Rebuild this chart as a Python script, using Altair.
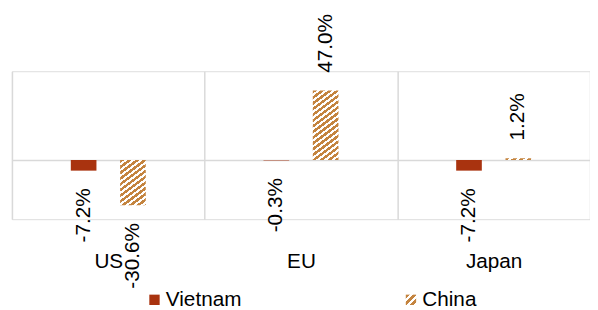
import math
import altair as alt
import pandas as pd

# ---- data ----
countries = ["US", "EU", "Japan"]
series = ["Vietnam", "China"]
vietnam = [-7.2, -0.3, -7.2]
china = [-30.6, 47.0, 1.2]

# ---- style ----
VIET = "#A9330F"
TAN = "#C4843F"
WHITE = "#FFFFFF"
GRID = "#D9D9D9"
FONT = "Liberation Sans"
FS = 21
PLOT_W, PLOT_H = 586, 150
Y_MIN, Y_MAX = -40, 60
BAR_W = 26
OFF = 25
GAP = 18
PX = PLOT_H / (Y_MAX - Y_MIN)
SLOPE = 0.75      # stripe slope (rise per px)
V_PERIOD = 5.8    # vertical stripe period in px
TAN_FRAC = 0.55

rows = []
for c, v, ch in zip(countries, vietnam, china):
    rows.append({"country": c, "series": "Vietnam", "value": v, "label": f"{v:.1f}%"})
    rows.append({"country": c, "series": "China", "value": ch, "label": f"{ch:.1f}%"})
df = pd.DataFrame(rows)


def stripe_stops(extent, period):
    stops = []
    n = int(math.ceil(extent / period))
    for i in range(n):
        a = min(i * period / extent, 1)
        b = min((i + TAN_FRAC) * period / extent, 1)
        c = min((i + 1) * period / extent, 1)
        stops += [(a, TAN), (b, TAN), (b, WHITE), (c, WHITE)]
    return stops


def bar_gradient(w, h, s, period):
    h = max(h, 0.5)
    lam = (s * w + h) / (s * s * w * w + h * h)
    return {
        "gradient": "linear", "x1": 0, "y1": 0,
        "x2": round(lam * s * w, 6), "y2": round(lam * h, 6),
        "stops": [{"offset": round(o, 5), "color": col}
                  for o, col in stripe_stops(s * w + h, period)],
    }


def legend_gradient_expr(side, period):
    stops = ", ".join(
        "{offset: %s, color: '%s'}" % (round(o, 5), col) for o, col in stripe_stops(2 * side, period)
    )
    return "{gradient: 'linear', x1: 0, y1: 0, x2: 1, y2: 1, stops: [%s]}" % stops


x_enc = alt.X(
    "country:N", sort=countries,
    scale=alt.Scale(paddingInner=0, paddingOuter=0),
    axis=alt.Axis(
        title=None, orient="bottom", domain=False, ticks=False, tickSize=0,
        labelPadding=32, labelFont=FONT, labelFontSize=FS, labelColor="#000000",
        labelAngle=0, grid=True, gridColor=GRID, gridWidth=1.5, tickBand="extent",
    ),
)
y_enc = alt.Y(
    "value:Q", stack=None,
    scale=alt.Scale(domain=[Y_MIN, Y_MAX], nice=False, zero=False),
    axis=alt.Axis(
        title=None, domain=False, ticks=False, labels=False, grid=True,
        values=[0], gridColor=GRID, gridWidth=1.5,
    ),
)

base = alt.Chart(df)

viet_bars = base.transform_filter(alt.datum.series == "Vietnam").mark_bar(
    width=BAR_W, xOffset=-OFF
).encode(
    x=x_enc, y=y_enc, y2=alt.datum(0),
    color=alt.Color(
        "series:N",
        scale=alt.Scale(domain=series, range=[VIET, {"expr": legend_gradient_expr(10, 7)}]),
        legend=alt.Legend(
            title=None, orient="none", legendX=134, legendY=221, direction="horizontal",
            symbolType="square", symbolSize=110, symbolStrokeWidth=0, padding=0,
            labelFont=FONT, labelFontSize=FS, labelColor="#000000", labelOffset=1,
            columnPadding=161,
        ),
    ),
)

layers = [viet_bars]
for c, v in zip(countries, china):
    g = bar_gradient(BAR_W, abs(v) * PX, SLOPE, V_PERIOD)
    layers.append(
        base.transform_filter(
            (alt.datum.series == "China") & (alt.datum.country == c)
        ).mark_bar(width=BAR_W, xOffset=OFF, fill=g).encode(x=x_enc, y=y_enc, y2=alt.datum(0))
    )

for s, off in (("Vietnam", -OFF), ("China", OFF)):
    for positive in (True, False):
        cond = (alt.datum.series == s) & ((alt.datum.value >= 0) if positive else (alt.datum.value < 0))
        layers.append(
            base.transform_filter(cond).mark_text(
                angle=270, align="left" if positive else "right", baseline="middle",
                dx=GAP if positive else -GAP, xOffset=off,
                font=FONT, fontSize=FS, color="#000000",
            ).encode(x=x_enc, y=y_enc, text="label:N")
        )

chart = alt.layer(*layers).properties(
    width=PLOT_W, height=PLOT_H,
    padding={"left": 4, "top": 62, "right": 0, "bottom": 90},
    autosize=alt.AutoSizeParams(type="none"),
).configure_view(stroke=None).configure(background="white")

chart.save("out.html", embed_options={"renderer": "svg", "actions": False})
